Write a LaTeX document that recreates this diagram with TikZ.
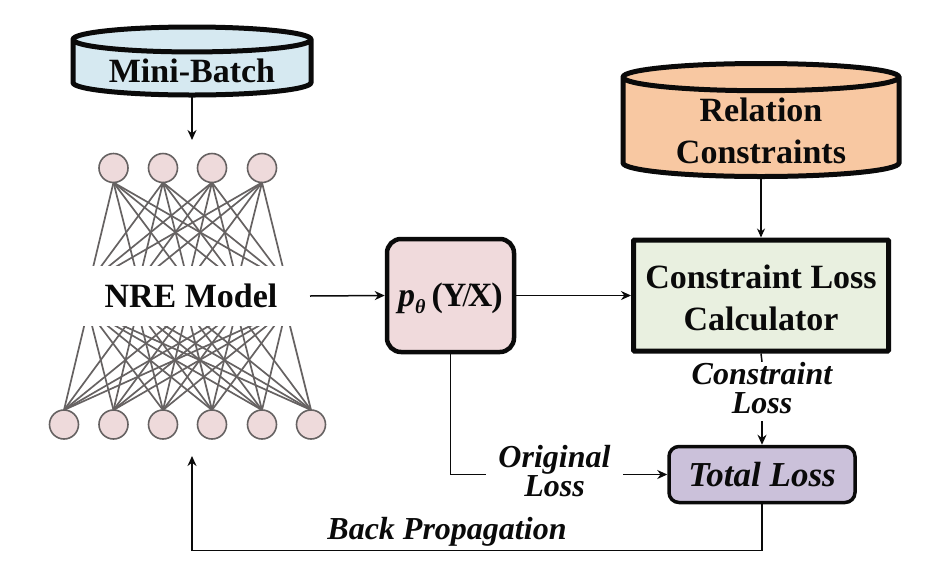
\documentclass[tikz,border=0pt]{standalone}
\usepackage{fontspec}
\setmainfont{Liberation Serif}
\usetikzlibrary{arrows.meta,shapes.geometric}
\definecolor{ink}{HTML}{0A0A0A}
\definecolor{neuron}{HTML}{EEDADB}
\definecolor{neuronline}{HTML}{666262}
\definecolor{batchblue}{HTML}{D6E9F1}
\definecolor{relorange}{HTML}{F8C8A2}
\definecolor{probpink}{HTML}{F0DADC}
\definecolor{calcgreen}{HTML}{E9F0E0}
\definecolor{losslilac}{HTML}{CBC1DA}
\newcommand{\twolines}[2]{\begin{tabular}{@{}c@{}}#1\\#2\end{tabular}}
\tikzset{
  x=1pt,y=-1pt,
  heading/.style={font=\bfseries\fontsize{34}{42}\selectfont,text=ink,align=center},
  lossnote/.style={font=\bfseries\itshape\fontsize{32}{27}\selectfont,text=ink,align=center},
  dbstore/.style={cylinder,shape border rotate=90,draw=ink,line width=5pt,cylinder uses custom fill,
    heading,inner sep=0pt,outer sep=0pt,anchor=shape center},
  neuronnode/.style={circle,draw=neuronline,fill=neuron,line width=1.6pt,minimum size=29pt,inner sep=0pt,outer sep=0pt},
  edge/.style={draw=neuronline,line width=1.7pt},
  flow/.style={draw=ink,line width=1.5pt},
  flowarrow/.style={flow,-{Stealth[length=10pt,width=9pt]}},
}
\begin{document}
\begin{tikzpicture}
\useasboundingbox (0,0) rectangle (946,582);

% network layers; the middle layer sits behind the model label
\foreach \i/\px in {1/113.5,2/163,3/212,4/262}
  \node[neuronnode] (t\i) at (\px,168) {};
\foreach \j/\px in {1/64,2/113.5,3/163,4/212,5/262,6/311}
  \node[neuronnode] (b\j) at (\px,424.5) {};
\foreach \k/\px in {1/89.5,2/138.75,3/188,4/237.25,5/286.5}
  \coordinate (hu\k) at (\px,282);
\foreach \k/\px in {1/88,2/137.5,3/187,4/236.5,5/286}
  \coordinate (hl\k) at (\px,310);
\foreach \i in {1,...,4}
  \foreach \k in {1,...,5}
    \draw[edge] (t\i.south) -- (hu\k);
\foreach \j in {1,...,6}
  \foreach \k in {1,...,5}
    \draw[edge] (b\j.north) -- (hl\k);
\node[heading,fill=white,minimum width=238pt,minimum height=60pt,inner sep=0pt,outer sep=0pt] (nre) at (191,296) {NRE Model};

% data stores
\node[dbstore,cylinder body fill=batchblue,cylinder end fill=batchblue,
  minimum width=238pt,minimum height=68pt,shape aspect=0.15] (batch) at (192,61) {\raisebox{-14pt}[0pt][0pt]{Mini-Batch}};
\node[dbstore,cylinder body fill=relorange,cylinder end fill=relorange,
  minimum width=276pt,minimum height=113pt,shape aspect=0.16] (rel) at (761,120) {\raisebox{-12.5pt}[0pt][0pt]{\twolines{Relation}{Constraints}}};

% process boxes
\node[heading,draw=ink,fill=probpink,line width=4.5pt,rounded corners=14pt,minimum width=127pt,minimum height=113pt,inner sep=0pt,outer sep=2.25pt] (prob) at (450.5,295.5)
  {\rule{0pt}{30pt}\textit{p}\raisebox{-7pt}{\fontsize{20}{20}\selectfont\textit{θ}}\kern6pt(\kern-1pt Y\kern-4pt{\mdseries/}\kern-4pt X\kern-1pt)};
\node[heading,draw=ink,fill=calcgreen,line width=5pt,rounded corners=1pt,minimum width=255pt,minimum height=111pt,inner sep=0pt,outer sep=2.5pt] (calc) at (761,295.5)
  {\rule{0pt}{29pt}Constraint Loss\\Calculator};
\node[heading,font=\bfseries\itshape\fontsize{35}{40}\selectfont,draw=ink,fill=losslilac,line width=3.5pt,rounded corners=10pt,minimum width=186pt,minimum height=56pt,inner sep=0pt,outer sep=1.75pt] (total) at (762,474.5)
  {Total Loss};

% connector labels
\node[lossnote,fill=white,minimum width=137pt,minimum height=56pt,inner sep=0pt,outer sep=0pt] (orig) at (554.5,474.5) {\raisebox{4pt}{\twolines{Original}{Loss}}};
\node[lossnote,fill=white,minimum width=144pt,minimum height=52pt,inner sep=0pt,outer sep=0pt] (cons) at (762,391.5) {\raisebox{-1pt}{\twolines{Constraint}{Loss}}};
\node[font=\bfseries\itshape\fontsize{32}{34}\selectfont,text=ink,inner sep=0pt] (back) at (447,532) {Back Propagation};

% free ends of the arrows into and out of the network
\coordinate (netin) at (192,140);
\coordinate (netout) at (192,456);

% connectors
\draw[flowarrow] (batch.south) -- (netin);
\draw[flow,line width=1.1pt,-{Stealth[length=9pt,width=8pt]}] (rel.south) -- (calc.north);
\draw[flowarrow] (nre.east) -- (prob.west);
\draw[flowarrow] (prob.east) -- (calc.west);
\draw[flow] (calc.south) -- (cons.north);
\draw[flowarrow] (cons.south) -- (total.north);
\draw[flow] (prob.south) |- (orig.west);
\draw[flowarrow] (orig.east) -- (total.west);
\draw[flowarrow] (total.south) -- ++(0,46) -| (netout);
\end{tikzpicture}
\end{document}
